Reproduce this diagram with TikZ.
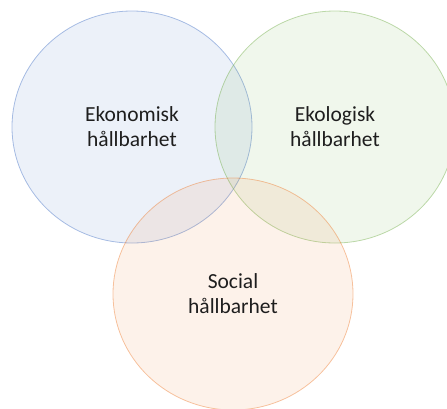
\documentclass[tikz,border=0pt]{standalone}
\usepackage{fontspec}
\setmainfont{Carlito}
\usepackage{tikz}
\usetikzlibrary{shapes.geometric}
\usepackage{xcolor}
\definecolor{mblue}{HTML}{4472C4}
\definecolor{mgreen}{HTML}{70AD47}
\definecolor{morange}{HTML}{ED7D31}
\definecolor{mtext}{HTML}{1E1E1E}
\tikzstyle{ring}=[ellipse, minimum width=240pt, minimum height=232pt, line width=0.8pt, fill opacity=0.1, draw opacity=0.45, text opacity=1, text=mtext, align=center, font=\fontsize{21.5}{25}\selectfont]
\tikzstyle{eko}=[ring, draw=mblue, fill=mblue]
\tikzstyle{eco}=[ring, draw=mgreen, fill=mgreen]
\tikzstyle{soc}=[ring, draw=morange, fill=morange]

\begin{document}
\begin{tikzpicture}[x=1pt,y=-1pt]
    \useasboundingbox (0,0) rectangle (447,408);
    \node[eko] (ekonomi) at (132,127) {Ekonomisk\\hållbarhet};
    \node[eco] (ekologi) at (335,127) {Ekologisk\\hållbarhet};
    \node[soc] (social)  at (233,294) {Social\\hållbarhet};
\end{tikzpicture}
\end{document}
